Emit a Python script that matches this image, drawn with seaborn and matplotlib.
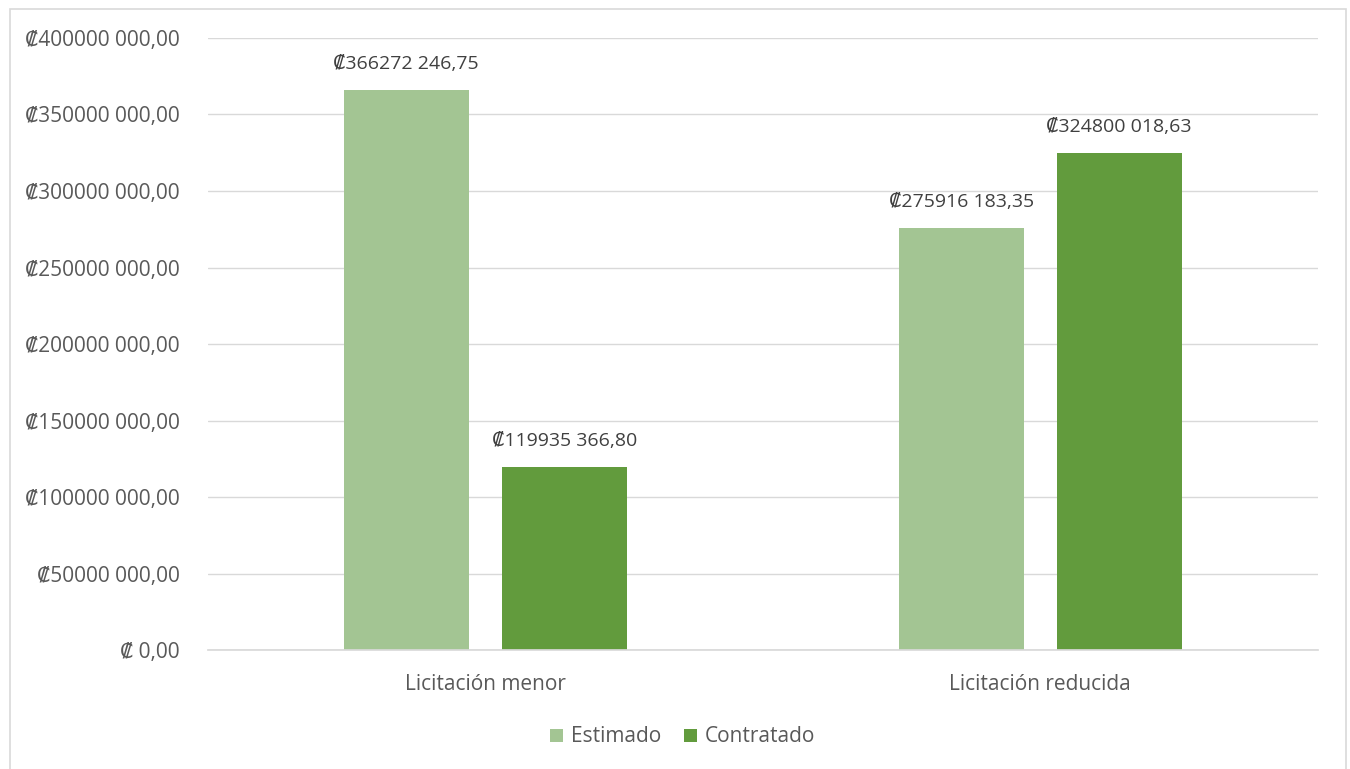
import pandas as pd
import matplotlib.pyplot as plt
import seaborn as sns
from matplotlib.patches import Rectangle

categories = ["Licitación menor", "Licitación reducida"]
series = ["Estimado", "Contratado"]
estimado = [366272246.75, 275916183.35]
contratado = [119935366.80, 324800018.63]
yticks = [0, 50e6, 100e6, 150e6, 200e6, 250e6, 300e6, 350e6, 400e6]

colors = {"Estimado": "#A3C593", "Contratado": "#629B3D"}
TXT = "#595959"
FONT = ["Open Sans", "DejaVu Sans"]


def colon_fmt(v):
    if v == 0:
        return "₡ 0,00"
    s = f"{v:.2f}"
    ent, dec = s.split(".")
    return f"₡{ent[:-3]} {ent[-3:]},{dec}"


sns.set_theme(style="white")
plt.rcParams["font.family"] = FONT

df = pd.DataFrame({
    "cat": categories * 2,
    "serie": [series[0]] * 2 + [series[1]] * 2,
    "valor": estimado + contratado,
})

fig = plt.figure(figsize=(13.5, 7.69), dpi=100)
ax = fig.add_axes([0.154, 0.1547, 0.822, 0.7959])

sns.barplot(data=df, x="cat", y="valor", hue="serie", hue_order=series,
            palette=colors, width=0.57, gap=0.21, ax=ax, legend=True,
            errorbar=None, saturation=1, linewidth=0)

ax.set_xlim(-0.5, 1.5)
ax.set_ylim(0, 400e6)
ax.set_yticks(yticks)
ax.set_yticklabels([colon_fmt(v) for v in yticks], fontsize=15, color=TXT)
ax.tick_params(axis="x", labelsize=15, colors=TXT, length=0, pad=17)
ax.tick_params(axis="y", length=0, pad=20)
ax.set_xlabel("")
ax.set_ylabel("")
ax.grid(axis="y", color="#D9D9D9", linewidth=1)
ax.set_axisbelow(True)
for s in ["top", "right", "left"]:
    ax.spines[s].set_visible(False)
ax.spines["bottom"].set_color("#D9D9D9")

for cont in ax.containers:
    ax.bar_label(cont, labels=[colon_fmt(v) for v in cont.datavalues],
                 padding=12, fontsize=14, color="#404040")

h, l = ax.get_legend_handles_labels()
ax.get_legend().remove()
leg = fig.legend(h, l, loc="center", bbox_to_anchor=(683 / 1350, 1 - 737 / 769),
                 ncol=2, frameon=False, fontsize=15, handlelength=0.6,
                 handleheight=0.6, columnspacing=1.1, handletextpad=0.4)
for t in leg.get_texts():
    t.set_color(TXT)

fig.patches.append(Rectangle((10 / 1350, -0.02), 1336 / 1350, 1 - 9 / 769 + 0.02,
                             transform=fig.transFigure, fill=False,
                             edgecolor="#D9D9D9", linewidth=1.2))

fig.savefig("out.png", dpi=100)
